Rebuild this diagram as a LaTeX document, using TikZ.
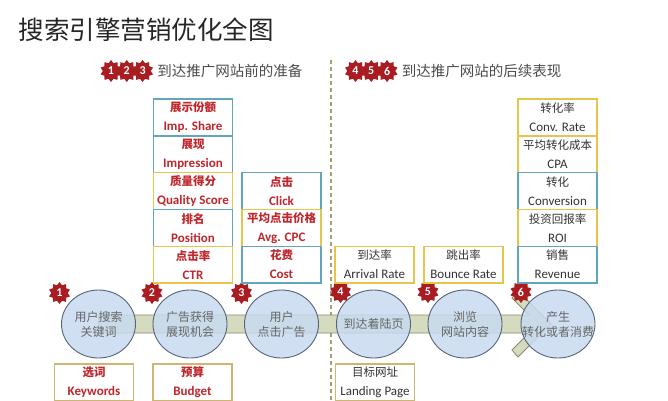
\documentclass[tikz,border=0pt]{standalone}
\usepackage{fontspec}
\setmainfont{Carlito}
\newfontfamily\cjk{Noto Sans CJK SC}
\usetikzlibrary{shapes.geometric,positioning,calc}
\definecolor{tealline}{HTML}{62A5BE}
\definecolor{yellowline}{HTML}{E6C64A}
\definecolor{tanline}{HTML}{CFB66F}
\definecolor{redtext}{HTML}{C0272D}
\definecolor{badgered}{HTML}{A81C22}
\definecolor{ballfill}{HTML}{C8DAF0}
\definecolor{balldraw}{HTML}{56657A}
\definecolor{bandfill}{HTML}{D5DBBE}
\definecolor{banddraw}{HTML}{858C6C}
\definecolor{divider}{HTML}{A3A172}
\newcommand{\metric}[2]{{\cjk\fontsize{11.5}{19}\selectfont #1}\\#2}

\begin{document}
\begin{tikzpicture}[x=1pt,y=-1pt,
    mbox/.style={draw,line width=1.4pt,minimum width=79pt,minimum height=36.8pt,
      inner sep=0pt,outer sep=0pt,align=center,fill=white},
    redbox/.style={mbox,text=redtext,font=\fontsize{13}{19}\selectfont\bfseries},
    greybox/.style={mbox,text=black!80,font=\fontsize{13}{19}\selectfont},
    ball/.style={ellipse,draw=balldraw,line width=.9pt,fill=ballfill,fill opacity=.85,
      minimum width=74pt,minimum height=68pt,inner sep=0pt,
      label={[align=center,text=black!60,font=\cjk\fontsize{12}{15}\selectfont]center:#1}},
    badge/.style={star,star points=10,star point ratio=1.35,fill=badgered,
      minimum size=22pt,inner sep=0pt,text=white,font=\bfseries\fontsize{12}{12}\selectfont},
    headtext/.style={text=black!70,font=\cjk\fontsize{14.5}{15}\selectfont},
    band/.style={fill=bandfill,draw=banddraw,line width=.8pt}]
\useasboundingbox (0,0) rectangle (668,400);
\clip (0,0) rectangle (668,400);

% title and the two halves
\node[anchor=west,text=black!85,font=\cjk\fontsize{25.5}{26}\selectfont] (title) at (15,30) {搜索引擎营销优化全图};
\coordinate (dtop) at (331,60);
\coordinate (dbot) at (331,400);
\draw[divider,line width=1.2pt,dash pattern=on 4pt off 3pt] (dtop) -- (dbot);

\node[badge] (h1) at (111,71) {1};
\node[badge,right=-1pt of h1] (h2) {2};
\node[badge,right=-1pt of h2] (h3) {3};
\node[headtext,right=3pt of h3] (before) {到达推广网站前的准备};
\node[badge] (h4) at (355.5,71) {4};
\node[badge,right=-1pt of h4] (h5) {5};
\node[badge,right=-1pt of h5] (h6) {6};
\node[headtext,right=3pt of h6] (after) {到达推广网站的后续表现};

% the band with its arrow head
\coordinate (c1) at (98.5,324);
\coordinate (c2) at (190,324);
\coordinate (c3) at (281.5,324);
\coordinate (c4) at (373.5,324);
\coordinate (c5) at (465,324);
\coordinate (c6) at (558,324);
\draw[band] ($(c1)+(0,-9)$) -- ($(c6)+(-29,-9)$) -- ($(c6)+(-46,-26)$) -- ($(c6)+(-40,-33)$)
  -- ($(c6)+(-7,0)$) -- ($(c6)+(-40,33)$) -- ($(c6)+(-46,26)$) -- ($(c6)+(-29,9)$)
  -- ($(c1)+(0,9)$) -- cycle;

% steps
\node[ball={用户搜索\\关键词}] (s1) at (c1) {};
\node[ball={广告获得\\展现机会}] (s2) at (c2) {};
\node[ball={用户\\点击广告}] (s3) at (c3) {};
\node[ball={到达着陆页}] (s4) at (c4) {};
\node[ball={浏览\\网站内容}] (s5) at (c5) {};
\node[ball={产生\\转化或者消费}] (s6) at (c6) {};
\node[badge] (b1) at ($(s1)+(-39,-31)$) {1};
\node[badge] (b2) at ($(s2)+(-38,-31)$) {2};
\node[badge] (b3) at ($(s3)+(-40,-31)$) {3};
\node[badge] (b4) at ($(s4)+(-33,-32)$) {4};
\node[badge] (b5) at ($(s5)+(-37,-32)$) {5};
\node[badge] (b6) at ($(s6)+(-37,-32)$) {6};

% metrics above
\node[redbox,draw=tealline] (share) at (193,117.4) {\metric{展示份额}{Imp. Share}};
\node[redbox,draw=tealline,below=0pt of share] (impr) {\metric{展现}{Impression}};
\node[redbox,draw=yellowline,below=0pt of impr] (qscore) {\metric{质量得分}{Quality Score}};
\node[redbox,draw=tealline,below=0pt of qscore] (pos) {\metric{排名}{Position}};
\node[redbox,draw=yellowline,below=0pt of pos] (ctr) {\metric{点击率}{CTR}};

\node[redbox,draw=tealline] (click) at (281.5,191) {\metric{点击}{Click}};
\node[redbox,draw=yellowline,below=0pt of click] (cpc) {\metric{平均点击价格}{Avg. CPC}};
\node[redbox,draw=tealline,below=0pt of cpc] (cost) {\metric{花费}{Cost}};

\node[greybox,draw=yellowline] (arrive) at (374.5,264.6) {\metric{到达率}{Arrival Rate}};
\node[greybox,draw=yellowline] (bounce) at (463.5,264.6) {\metric{跳出率}{Bounce Rate}};

\node[greybox,draw=yellowline] (convrate) at (557.5,117.4) {\metric{转化率}{Conv. Rate}};
\node[greybox,draw=yellowline,below=0pt of convrate] (cpa) {\metric{平均转化成本}{CPA}};
\node[greybox,draw=tealline,below=0pt of cpa] (conv) {\metric{转化}{Conversion}};
\node[greybox,draw=yellowline,below=0pt of conv] (roi) {\metric{投资回报率}{ROI}};
\node[greybox,draw=tealline,below=0pt of roi] (rev) {\metric{销售}{Revenue}};

% inputs below
\node[redbox,draw=tanline] (kw) at (94,382.4) {\metric{选词}{Keywords}};
\node[redbox,draw=tanline] (budget) at (192.5,382.4) {\metric{预算}{Budget}};
\node[greybox,draw=tanline] (landing) at (375,382.4) {\metric{目标网址}{Landing Page}};
\end{tikzpicture}
\end{document}
